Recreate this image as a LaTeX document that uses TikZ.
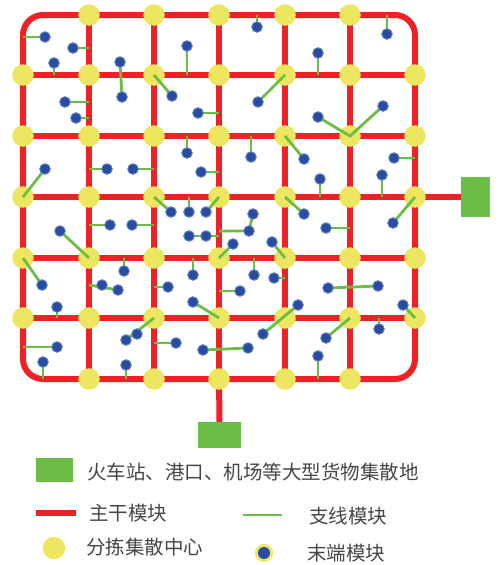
\documentclass[tikz,border=0pt]{standalone}
\usepackage{fontspec}
\newfontfamily\cjk{Noto Sans CJK SC}
\definecolor{trunkred}{RGB}{237,34,38}
\definecolor{hubyellow}{RGB}{236,230,96}
\definecolor{branchgreen}{RGB}{106,190,70}
\definecolor{sitegreen}{RGB}{108,189,69}
\definecolor{dotblue}{RGB}{40,76,160}
\definecolor{dothalo}{RGB}{95,125,190}
\definecolor{txtgray}{RGB}{70,70,70}
\tikzset{
  trunk/.style={draw=trunkred, line width=6pt},
  branch/.style={draw=branchgreen, line width=2.8pt},
  hub/.style={circle, fill=hubyellow, minimum size=21.5pt, inner sep=0pt},
  term/.style={circle, fill=dotblue, draw=dothalo, line width=1pt, minimum size=10.5pt, inner sep=0pt},
  site/.style={rectangle, fill=sitegreen, inner sep=0pt},
  legtext/.style={anchor=west, inner sep=0pt, text=txtgray, font=\cjk\fontsize{19.5pt}{20pt}\selectfont}
}
\begin{document}
\begin{tikzpicture}[x=1pt, y=-1pt]
\useasboundingbox (0,0) rectangle (501,565);
% grid coordinates
\foreach \i/\x in {1/23,2/89,3/154,4/219,5/285,6/350,7/415}
  \foreach \j/\y in {1/15,2/75,3/136,4/197,5/258,6/318,7/379}
    \coordinate (h-\i-\j) at (\x,\y);
% sites
\node[site, minimum width=29pt, minimum height=40pt] (east) at (475.5,197) {};
\node[site, minimum width=43pt, minimum height=26pt] (south) at (219.5,435) {};
% trunk lines
\draw[trunk, rounded corners=20pt] (h-1-1) rectangle (h-7-7);
\foreach \i in {2,...,6} \draw[trunk] (h-\i-1) -- (h-\i-7);
\foreach \j in {2,...,6} \draw[trunk] (h-1-\j) -- (h-7-\j);
\draw[trunk] (h-7-4) -- (east.west);
\draw[trunk] (h-4-7) -- (south.north);
% hubs
\foreach \i in {2,...,6} {
  \node[hub] at (h-\i-1) {};
  \node[hub] at (h-\i-7) {};
}
\foreach \i in {1,...,7}
  \foreach \j in {2,...,6}
    \node[hub] at (h-\i-\j) {};
% terminal positions
\foreach \n/\x/\y in {
 1/45/37, 2/73/48, 3/54/63, 4/120/62, 5/122/97, 6/187/46, 7/172/96, 8/65/102,
 9/76/118, 10/198/113, 11/187/153, 12/45/169, 13/107/169, 14/133/169, 15/201/172,
 16/251/157, 17/257/27, 18/387/34, 19/318/53, 20/258/102, 21/318/117, 22/383/106,
 23/304/159, 24/394/158, 25/320/179, 26/382/175, 27/304/214, 28/326/228, 29/393/223,
 30/272/242, 31/249/231, 32/253/214, 33/254/275, 34/274/278, 35/328/288, 36/378/286,
 37/298/305, 38/263/334, 39/403/305, 40/326/338, 41/379/329, 42/318/356, 43/110/225,
 44/132/225, 45/171/212, 46/189/212, 47/206/212, 48/189/236, 49/206/236, 50/60/231,
 51/42/285, 52/124/271, 53/102/285, 54/118/290, 55/168/287, 56/193/275, 57/240/291,
 58/193/302, 59/233/244, 60/57/307, 61/57/347, 62/43/362, 63/126/340, 64/137/334,
 65/176/343, 66/126/365, 67/203/350, 68/248/348}
  \coordinate (t\n) at (\x,\y);
% branch lines
\draw[branch] (t1) -- (t1 -| h-1-1);
\draw[branch] (t2) -- (t2 -| h-2-1);
\draw[branch] (t3) -- (t3 |- h-1-2);
\draw[branch] (t4) -- (t5);
\draw[branch] (t6) -- (t6 |- h-1-2);
\draw[branch] (h-3-2) -- (t7);
\draw[branch] (t8) -- (t8 -| h-2-1);
\draw[branch] (t9) -- (t9 -| h-2-1);
\draw[branch] (t10) -- (t10 -| h-4-1);
\draw[branch] (t11) -- (t11 |- h-1-3);
\draw[branch] (t12) -- (h-1-4);
\draw[branch] (t13) -- (t13 -| h-2-1);
\draw[branch] (t14) -- (t14 -| h-3-1);
\draw[branch] (t15) -- (t15 -| h-4-1);
\draw[branch] (t16) -- (t16 |- h-1-3);
\draw[branch] (t17) -- (t17 |- h-1-1);
\draw[branch] (t18) -- (t18 |- h-1-1);
\draw[branch] (t19) -- (t19 |- h-1-2);
\draw[branch] (t20) -- (h-5-2);
\draw[branch] (t21) -- (h-6-3) -- (t22);
\draw[branch] (h-5-3) -- (t23);
\draw[branch] (t24) -- (t24 -| h-7-1);
\draw[branch] (t25) -- (t25 |- h-1-4);
\draw[branch] (t26) -- (t26 |- h-1-4);
\draw[branch] (h-5-4) -- (t27);
\draw[branch] (t28) -- (t28 -| h-6-1);
\draw[branch] (t29) -- (h-7-4);
\draw[branch] (t30) -- (h-5-5);
\draw[branch] (t31 -| h-4-1) -- (t31) -- (t32);
\draw[branch] (t33) -- (t33 |- h-1-5);
\draw[branch] (t34) -- (t34 -| h-5-1);
\draw[branch] (t35) -- (t36);
\draw[branch] (t37) -- (t38);
\draw[branch] (t39) -- (h-7-6);
\draw[branch] (t40) -- (h-6-6);
\draw[branch] (t41) -- (t41 |- h-1-6);
\draw[branch] (t42) -- (t42 |- h-1-7);
\draw[branch] (t43) -- (t43 -| h-2-1);
\draw[branch] (t44) -- (t44 -| h-3-1);
\draw[branch] (h-3-4) -- (t45);
\draw[branch] (t46) -- (t46 |- h-1-4);
\draw[branch] (t47) -- (h-4-4);
\draw[branch] (t48) -- (t48 -| h-4-1);
\draw[branch] (t50) -- (h-2-5);
\draw[branch] (h-1-5) -- (t51);
\draw[branch] (t52) -- (t52 |- h-1-5);
\draw[branch] (t53 -| h-2-1) -- (t54);
\draw[branch] (t55) -- (t55 -| h-3-1);
\draw[branch] (t56) -- (t56 |- h-1-5);
\draw[branch] (t57) -- (t57 -| h-4-1);
\draw[branch] (t58) -- (h-4-6);
\draw[branch] (t59) -- (h-4-5);
\draw[branch] (t60) -- (t60 |- h-1-6);
\draw[branch] (t61) -- (t61 -| h-1-1);
\draw[branch] (t62) -- (t62 |- h-1-7);
\draw[branch] (t63) -- (h-3-6);
\draw[branch] (t65) -- (t65 -| h-3-1);
\draw[branch] (t66) -- (t66 |- h-1-7);
\draw[branch] (t67) -- (t68);
% terminals
\foreach \n in {1,...,68} \node[term] (d\n) at (t\n) {};
% legend
\node[site, minimum width=37pt, minimum height=24pt] (lgsite) at (54.5,470) {};
\node[legtext] (lgsitetxt) at (87,472) {火车站、港口、机场等大型货物集散地};
\coordinate (lgr1) at (36,513);
\coordinate (lgr2) at (76,513);
\draw[trunk] (lgr1) -- (lgr2);
\node[legtext] (lgtrunk) at (89,513) {主干模块};
\coordinate (lgg1) at (243,515);
\coordinate (lgg2) at (282,515);
\draw[branch] (lgg1) -- (lgg2);
\node[legtext] (lgbranch) at (309,516) {支线模块};
\node[hub, minimum size=22.5pt] (lghub) at (54,548) {};
\node[legtext] (lghubtxt) at (86,547) {分拣集散中心};
\node[circle, fill=hubyellow, minimum size=18pt, inner sep=0pt] (lgterm) at (264,553) {};
\node[circle, fill=dotblue, minimum size=12pt, inner sep=0pt] at (lgterm) {};
\node[legtext] (lgtermtxt) at (307,553) {末端模块};
\end{tikzpicture}
\end{document}
